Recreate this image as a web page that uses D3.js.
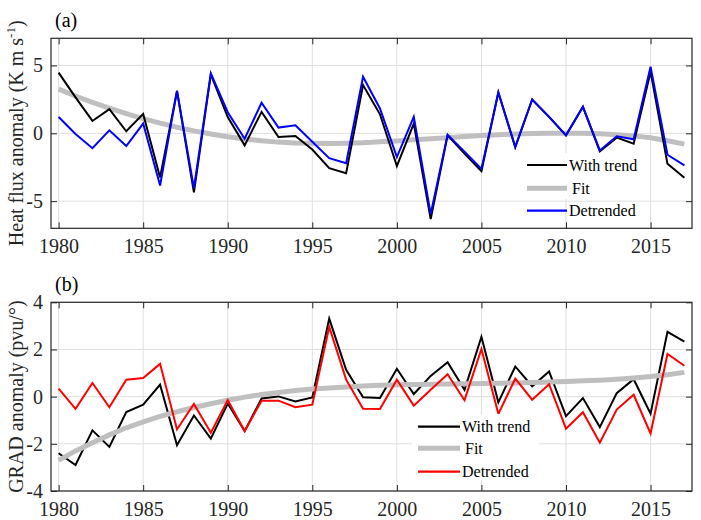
<!DOCTYPE html>
<html>
<head>
<meta charset="utf-8">
<script src="https://cdn.jsdelivr.net/npm/d3@7"></script>
<style>
  html, body { margin: 0; padding: 0; background: #fff; }
</style>
</head>
<body>
<svg id="chart" width="701" height="520"></svg>
<script>
// ---------- DATA ----------
const years = d3.range(1980, 2018);
const xTicks = [1980, 1985, 1990, 1995, 2000, 2005, 2010, 2015];

// Panel (a): heat flux anomaly (K m s^-1)
const heatWithTrend = [4.47, 2.65, 0.91, 1.78, 0.15, 1.43, -3.25, 3.13, -4.35, 4.35,
  1.2, -0.89, 1.58, -0.27, -0.2, -1.2, -2.57, -2.94, 3.56, 1.4,
  -2.42, 0.72, -6.32, -0.15, -1.5, -2.79, 3.01, -1.01, 2.49, 1.21,
  -0.15, 1.95, -1.33, -0.32, -0.77, 4.54, -2.25, -3.28];
const heatFit = [3.25, 2.75, 2.28, 1.85, 1.45, 1.08, 0.75, 0.45, 0.18, -0.05,
  -0.25, -0.42, -0.55, -0.65, -0.71, -0.74, -0.75, -0.73, -0.69, -0.63,
  -0.56, -0.48, -0.4, -0.32, -0.24, -0.17, -0.11, -0.06, -0.02, 0.0,
  0.01, 0.0, -0.04, -0.1, -0.19, -0.33, -0.55, -0.8];
const heatDetrended = [1.2, -0.05, -1.1, 0.22, -0.94, 0.72, -3.85, 3.13, -4.05, 4.42,
  1.55, -0.4, 2.25, 0.42, 0.59, -0.62, -1.83, -2.2, 4.17, 1.83,
  -1.75, 1.21, -5.95, -0.1, -1.35, -2.62, 3.01, -1.01, 2.49, 1.21,
  -0.15, 1.95, -1.26, -0.22, -0.44, 4.91, -1.58, -2.37];
const heatYTicks = [-5, 0, 5];

// Panel (b): GRAD anomaly (pvu/°)
const gradWithTrend = [-2.4, -2.9, -1.43, -2.13, -0.65, -0.34, 0.51, -2.06, -0.8, -1.78,
  -0.29, -1.46, -0.08, 0.01, -0.2, -0.03, 3.31, 1.14, -0.03, -0.06,
  1.18, 0.11, 0.88, 1.46, 0.29, 2.54, -0.24, 1.28, 0.44, 1.07,
  -0.83, -0.06, -1.29, 0.15, 0.74, -0.72, 2.75, 2.33];
const gradFit = [-2.7, -2.3, -1.95, -1.62, -1.32, -1.07, -0.84, -0.64, -0.46, -0.3,
  -0.15, -0.02, 0.09, 0.18, 0.26, 0.32, 0.37, 0.41, 0.45, 0.48,
  0.5, 0.52, 0.53, 0.54, 0.55, 0.56, 0.57, 0.58, 0.6, 0.62,
  0.64, 0.67, 0.7, 0.74, 0.79, 0.85, 0.93, 1.03];
const gradDetrended = [0.34, -0.52, 0.58, -0.45, 0.72, 0.79, 1.39, -1.39, -0.31, -1.53,
  -0.15, -1.46, -0.17, -0.17, -0.45, -0.34, 2.96, 0.72, -0.51, -0.52,
  0.72, -0.38, 0.29, 0.95, -0.15, 2.02, -0.73, 0.76, -0.13, 0.53,
  -1.36, -0.66, -1.95, -0.55, 0.08, -1.56, 1.81, 1.31];
const gradYTicks = [-4, -2, 0, 2, 4];

const legendLabels = ["With trend", "Fit", "Detrended"];

// ---------- DRAW ----------
const FONT = "'Liberation Serif', 'Times New Roman', serif";
const svg = d3.select("#chart").style("font-family", FONT);
const axisColor = "#262626";
const gridColor = "#dfdfdf";
const x = d3.scaleLinear().domain([1979.55, 2017.45]).range([51, 692]);

function panel(cfg) {
  const y = d3.scaleLinear().domain(cfg.yDomain).range([cfg.bottom, cfg.top]);
  const g = svg.append("g");
  const left = x.range()[0], right = x.range()[1];

  // grid
  g.append("g").selectAll("line").data(xTicks).join("line")
    .attr("x1", d => x(d)).attr("x2", d => x(d))
    .attr("y1", cfg.top).attr("y2", cfg.bottom)
    .attr("stroke", gridColor).attr("stroke-width", 1);
  g.append("g").selectAll("line").data(cfg.yTicks).join("line")
    .attr("x1", left).attr("x2", right)
    .attr("y1", d => y(d)).attr("y2", d => y(d))
    .attr("stroke", gridColor).attr("stroke-width", 1);

  // series
  const line = d3.line().x((d, i) => x(years[i])).y(d => y(d));
  const series = [
    { v: cfg.withTrend, c: "#000000", w: 2 },
    { v: cfg.fit, c: "#bfbfbf", w: 5 },
    { v: cfg.detrended, c: cfg.detColor, w: 2 }
  ];
  cfg.order.forEach(k => {
    const s = series[k];
    g.append("path").datum(s.v).attr("d", line)
      .attr("fill", "none").attr("stroke", s.c).attr("stroke-width", s.w)
      .attr("stroke-linejoin", "miter").attr("stroke-miterlimit", 4);
  });

  // axes (ticks inward on all sides)
  const ax = (gen, tx, ty, showLabels) => {
    const a = g.append("g").attr("transform", `translate(${tx},${ty})`).call(gen);
    a.attr("font-family", FONT);
    a.select(".domain").remove();
    a.selectAll(".tick line").attr("stroke", axisColor);
    if (!showLabels) a.selectAll("text").remove();
    return a;
  };
  const xb = ax(d3.axisBottom(x).tickValues(xTicks).tickSize(-6).tickFormat(d3.format("d")), 0, cfg.bottom, true);
  xb.selectAll("text").attr("y", cfg.xLabelOffset).attr("dy", null)
    .attr("font-size", 20).attr("fill", axisColor);
  ax(d3.axisTop(x).tickValues(xTicks).tickSize(-6), 0, cfg.top, false);
  const yl = ax(d3.axisLeft(y).tickValues(cfg.yTicks).tickSize(-6).tickFormat(d => d < 0 ? "-" + Math.abs(d) : d), left, 0, true);
  yl.selectAll("text").attr("x", -8)
    .attr("font-size", 20).attr("fill", axisColor);
  ax(d3.axisRight(y).tickValues(cfg.yTicks).tickSize(-6), right, 0, false);

  // box
  g.append("rect").attr("x", left).attr("y", cfg.top)
    .attr("width", right - left).attr("height", cfg.bottom - cfg.top)
    .attr("fill", "none").attr("stroke", axisColor).attr("stroke-width", 1.2);

  // panel title
  g.append("text").attr("x", 55).attr("y", cfg.top - 11)
    .attr("font-size", 20).attr("fill", "#000").text(cfg.title);

  // y label
  const cy = (cfg.top + cfg.bottom) / 2;
  const lab = g.append("text")
    .attr("transform", `translate(23,${cy}) rotate(-90)`)
    .attr("text-anchor", "middle").attr("font-size", 20).attr("fill", axisColor);
  cfg.ylabel(lab);

  // legend
  const L = cfg.legend;
  g.append("rect").attr("x", L.bx).attr("y", L.by).attr("width", L.bw).attr("height", L.bh)
    .attr("fill", "#fff");
  legendLabels.forEach((t, i) => {
    const s = series[i];
    const ly = L.rows[i];
    g.append("line").attr("x1", L.x1).attr("x2", L.x2).attr("y1", ly).attr("y2", ly)
      .attr("stroke", s.c).attr("stroke-width", i === 1 ? 5 : 2.2);
    g.append("text").attr("x", L.x2 + 2 + (i === 1 ? 3 : 0)).attr("y", ly)
      .attr("dy", "0.35em").attr("font-size", 16).attr("fill", "#000").text(t);
  });
}

panel({
  top: 38.3, bottom: 228.3, yDomain: [-7, 7], yTicks: heatYTicks, xLabelOffset: 25,
  withTrend: heatWithTrend, fit: heatFit, detrended: heatDetrended, detColor: "#0000ff",
  order: [1, 0, 2], title: "(a)",
  ylabel: t => {
    t.append("tspan").text("Heat flux anomaly (K m s");
    t.append("tspan").attr("font-size", 13).attr("dy", -8).text("-1");
    t.append("tspan").attr("dy", 8).text(")");
  },
  legend: { bx: 521, by: 153, bw: 128, bh: 46, x1: 527, x2: 567, rows: [165, 188.3, 210.7] }
});

panel({
  top: 302.3, bottom: 491, yDomain: [-4, 4], yTicks: gradYTicks, xLabelOffset: 25,
  withTrend: gradWithTrend, fit: gradFit, detrended: gradDetrended, detColor: "#ff0000",
  order: [0, 1, 2], title: "(b)",
  ylabel: t => { t.text("GRAD anomaly (pvu/°)"); },
  legend: { bx: 412, by: 414, bw: 127, bh: 66, x1: 418, x2: 460, rows: [426.7, 448.3, 471.7] }
});
</script>
</body>
</html>
